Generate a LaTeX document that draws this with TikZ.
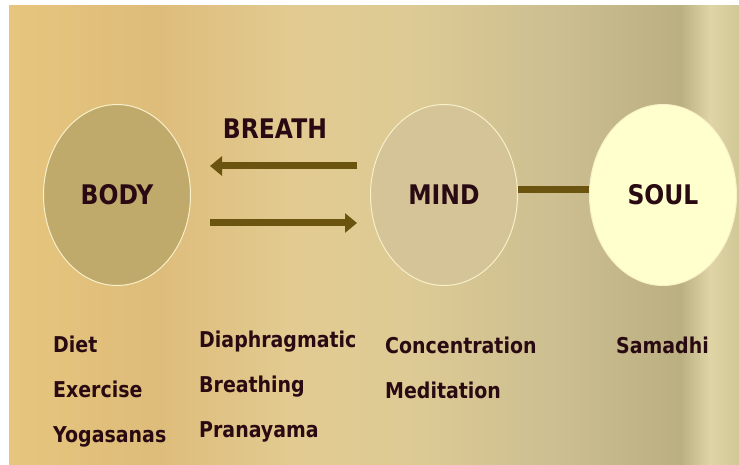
\documentclass[tikz,border=0pt]{standalone}
\usepackage{fontspec}
\setmainfont{DejaVu Sans}[FakeStretch=0.87]
\usetikzlibrary{arrows.meta,positioning,shapes.geometric}

\definecolor{ink}{RGB}{42,10,18}
\definecolor{flow}{RGB}{107,84,16}
\definecolor{orbline}{RGB}{248,240,200}
\definecolor{bodyfill}{RGB}{192,170,107}
\definecolor{mindfill}{RGB}{212,196,152}
\definecolor{soulfill}{RGB}{255,255,206}
\definecolor{bgA}{RGB}{230,198,126}
\definecolor{bgB}{RGB}{222,188,122}
\definecolor{bgC}{RGB}{226,203,146}
\definecolor{bgD}{RGB}{220,202,148}
\definecolor{bgE}{RGB}{204,190,145}
\definecolor{bgF}{RGB}{187,176,130}
\definecolor{bgG}{RGB}{222,212,165}
\definecolor{bgH}{RGB}{210,200,150}
\pgfdeclarehorizontalshading{parchment}{100bp}{color(0bp)=(bgA); color(25bp)=(bgA); color(34.7bp)=(bgB); color(45bp)=(bgC); color(53.2bp)=(bgD); color(62.7bp)=(bgE); color(71bp)=(bgF); color(73bp)=(bgG); color(75bp)=(bgH); color(100bp)=(bgH)}

\begin{document}
\begin{tikzpicture}[
    x=1pt, y=-1pt,
    orb/.style={ellipse, draw=orbline, line width=1pt, minimum width=147pt, minimum height=181pt, inner sep=0pt, font=\fontsize{27}{32}\selectfont\bfseries, text=ink},
    item/.style={anchor=base west, inner sep=0pt, text height=16pt, text depth=5pt, font=\fontsize{21.8}{26}\selectfont\bfseries, text=ink},
    arr/.style={-{Triangle[length=12pt, width=19pt]}, line width=7pt, draw=flow},
    link/.style={line width=7pt, draw=flow},
    node distance=24pt
]
\useasboundingbox (0,0) rectangle (739,465);
\shade[shading=parchment] (9,6) rectangle (739,465);
\node[orb, fill=bodyfill] (body) at (117,195) {BODY};
\node[orb, fill=mindfill] (mind) at (444,195) {MIND};
\node[orb, fill=soulfill] (soul) at (663,195) {SOUL};
\node[anchor=base, inner sep=0pt, font=\fontsize{27}{32}\selectfont\bfseries, text=ink] (breath) at (275,139) {BREATH};
\draw[arr, shorten <=13pt, shorten >=19pt] ([yshift=29pt]mind.west) -- ([yshift=29pt]body.east);
\draw[arr, shorten <=19pt, shorten >=13pt] ([yshift=-28pt]body.east) -- ([yshift=-28pt]mind.west);
\draw[link] ([yshift=5pt]mind.east) -- ([yshift=5pt]soul.west);
\node[item] (diet) at (53,352) {Diet};
\node[item, below=of diet.south west, anchor=north west] (exercise) {Exercise};
\node[item, below=of exercise.south west, anchor=north west] (yoga) {Yogasanas};
\node[item] (diaph) at (199,347) {Diaphragmatic};
\node[item, below=of diaph.south west, anchor=north west] (breathing) {Breathing};
\node[item, below=of breathing.south west, anchor=north west] (prana) {Pranayama};
\node[item] (conc) at (385,353) {Concentration};
\node[item, below=of conc.south west, anchor=north west] (medit) {Meditation};
\node[item] (samadhi) at (616,353) {Samadhi};
\end{tikzpicture}
\end{document}
